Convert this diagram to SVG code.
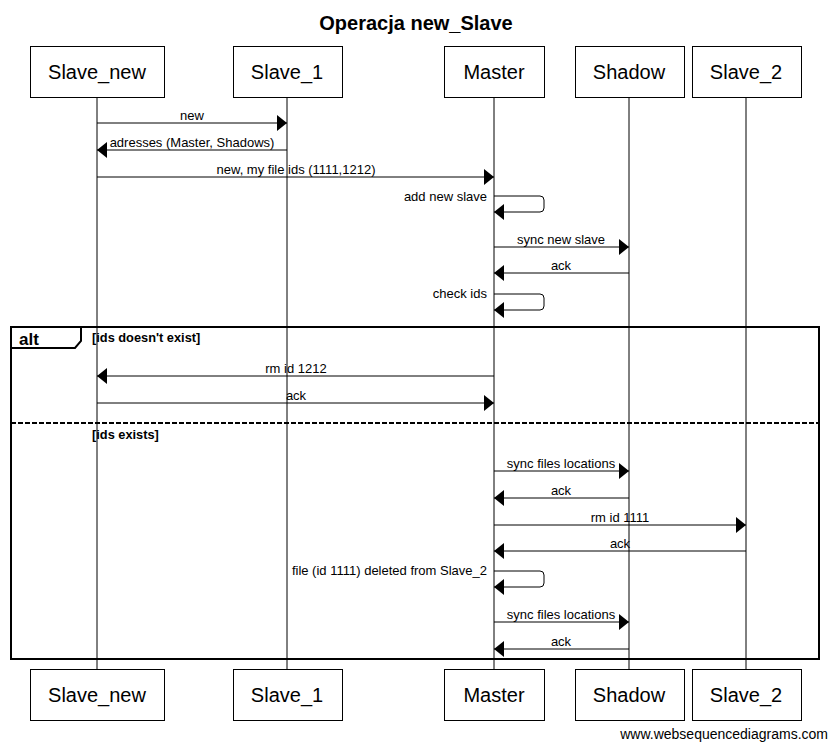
<svg xmlns="http://www.w3.org/2000/svg" width="829" height="743" viewBox="0 0 829 743">
<style>
text{font-family:"Liberation Sans",Arial,sans-serif;fill:#000}
.p{font-size:20px;text-anchor:middle}
.m{font-size:13px;text-anchor:middle}
.r{font-size:13px;text-anchor:end}
.g{font-size:12.8px;font-weight:bold}
.box{fill:#fff;stroke:#000;stroke-width:1}
.life{stroke:#000;stroke-width:1}
.msg{stroke:#000;stroke-width:1;fill:none}
</style>
<defs>
<marker id="ah" markerWidth="10" markerHeight="16" refX="10" refY="8" orient="auto" markerUnits="userSpaceOnUse">
<path d="M0,0 L10,8 L0,16 Z" fill="#000"/>
</marker>
</defs>
<rect width="829" height="743" fill="#fff"/>
<text x="416" y="30" style="font-size:20px;font-weight:bold;text-anchor:middle">Operacja new_Slave</text>

<g id="lifelines">
<line class="life" x1="97" y1="97" x2="97" y2="669"/>
<line class="life" x1="287" y1="97" x2="287" y2="669"/>
<line class="life" x1="494" y1="97" x2="494" y2="669"/>
<line class="life" x1="629" y1="97" x2="629" y2="669"/>
<line class="life" x1="746" y1="97" x2="746" y2="669"/>
</g>

<g id="frame">
<rect x="11" y="327" width="808" height="332" fill="none" stroke="#000" stroke-width="2"/>
<path d="M11,327 H81 V341 L75,348 H11" fill="none" stroke="#000" stroke-width="2"/>
<text x="19" y="345" style="font-size:17px;font-weight:bold">alt</text>
<text class="g" x="92" y="342">[ids doesn't exist]</text>
<line x1="11" y1="423" x2="819" y2="423" stroke="#000" stroke-width="2" stroke-dasharray="5,2"/>
<text class="g" x="92" y="439">[ids exists]</text>
</g>

<g id="connectors">
<line class="msg" x1="97" y1="123" x2="287" y2="123" marker-end="url(#ah)"/>
<text class="m" x="192" y="120">new</text>
<line class="msg" x1="287" y1="150" x2="97" y2="150" marker-end="url(#ah)"/>
<text class="m" x="192" y="147">adresses (Master, Shadows)</text>
<line class="msg" x1="97" y1="177" x2="494" y2="177" marker-end="url(#ah)"/>
<text class="m" x="296" y="174">new, my file ids (1111,1212)</text>
<path class="msg" d="M494,196 H540 Q544,196 544,200 V208 Q544,212 540,212 H494" marker-end="url(#ah)"/>
<text class="r" x="487" y="201">add new slave</text>
<line class="msg" x1="494" y1="247" x2="629" y2="247" marker-end="url(#ah)"/>
<text class="m" x="561" y="244">sync new slave</text>
<line class="msg" x1="629" y1="273" x2="494" y2="273" marker-end="url(#ah)"/>
<text class="m" x="561" y="270">ack</text>
<path class="msg" d="M494,294 H540 Q544,294 544,298 V306 Q544,310 540,310 H494" marker-end="url(#ah)"/>
<text class="r" x="487" y="298">check ids</text>
<line class="msg" x1="494" y1="376" x2="97" y2="376" marker-end="url(#ah)"/>
<text class="m" x="296" y="373">rm id 1212</text>
<line class="msg" x1="97" y1="403" x2="494" y2="403" marker-end="url(#ah)"/>
<text class="m" x="296" y="400">ack</text>
<line class="msg" x1="494" y1="471" x2="629" y2="471" marker-end="url(#ah)"/>
<text class="m" x="561" y="468">sync files locations</text>
<line class="msg" x1="629" y1="498" x2="494" y2="498" marker-end="url(#ah)"/>
<text class="m" x="561" y="495">ack</text>
<line class="msg" x1="494" y1="525" x2="746" y2="525" marker-end="url(#ah)"/>
<text class="m" x="620" y="522">rm id 1111</text>
<line class="msg" x1="746" y1="551" x2="494" y2="551" marker-end="url(#ah)"/>
<text class="m" x="620" y="548">ack</text>
<path class="msg" d="M494,571 H540 Q544,571 544,575 V583 Q544,587 540,587 H494" marker-end="url(#ah)"/>
<text class="r" x="487" y="575">file (id 1111) deleted from Slave_2</text>
<line class="msg" x1="494" y1="622" x2="629" y2="622" marker-end="url(#ah)"/>
<text class="m" x="561" y="619">sync files locations</text>
<line class="msg" x1="629" y1="649" x2="494" y2="649" marker-end="url(#ah)"/>
<text class="m" x="561" y="646">ack</text>
</g>

<g id="Slave_new">
<rect class="box" x="30.5" y="46.5" width="134" height="51"/>
<text class="p" x="97" y="79">Slave_new</text>
<rect class="box" x="30.5" y="669.5" width="134" height="51"/>
<text class="p" x="97" y="702">Slave_new</text>
</g>
<g id="Slave_1">
<rect class="box" x="233.5" y="46.5" width="109" height="51"/>
<text class="p" x="287" y="79">Slave_1</text>
<rect class="box" x="233.5" y="669.5" width="109" height="51"/>
<text class="p" x="287" y="702">Slave_1</text>
</g>
<g id="Master">
<rect class="box" x="444.5" y="46.5" width="100" height="51"/>
<text class="p" x="494" y="79">Master</text>
<rect class="box" x="444.5" y="669.5" width="100" height="51"/>
<text class="p" x="494" y="702">Master</text>
</g>
<g id="Shadow">
<rect class="box" x="575.5" y="46.5" width="109" height="51"/>
<text class="p" x="629" y="79">Shadow</text>
<rect class="box" x="575.5" y="669.5" width="109" height="51"/>
<text class="p" x="629" y="702">Shadow</text>
</g>
<g id="Slave_2">
<rect class="box" x="692.5" y="46.5" width="109" height="51"/>
<text class="p" x="746" y="79">Slave_2</text>
<rect class="box" x="692.5" y="669.5" width="109" height="51"/>
<text class="p" x="746" y="702">Slave_2</text>
</g>

<text x="828" y="739" style="font-size:14px;text-anchor:end">www.websequencediagrams.com</text>
</svg>
